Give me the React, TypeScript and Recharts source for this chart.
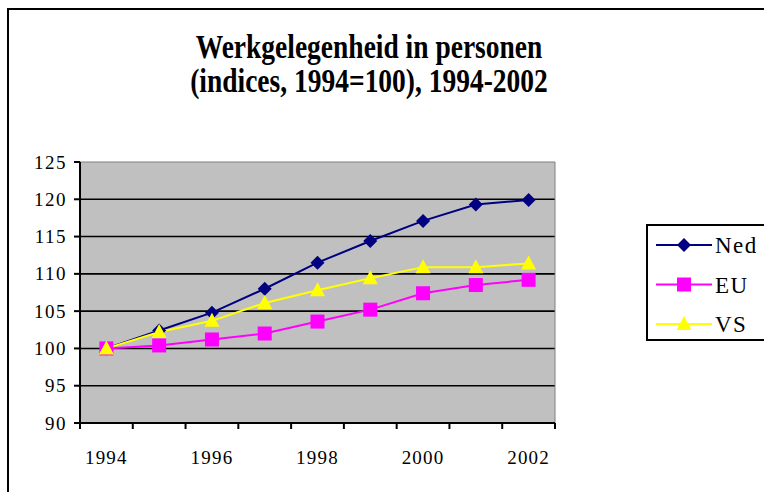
import React from 'react';
import { LineChart, Line, XAxis, YAxis, CartesianGrid, ReferenceArea, Legend } from 'recharts';

const years = ['1994', '1995', '1996', '1997', '1998', '1999', '2000', '2001', '2002'];
const seriesNames = ['Ned', 'EU', 'VS'];
const ned = [100, 102.4, 104.8, 108.0, 111.5, 114.4, 117.1, 119.3, 119.9];
const eu = [100, 100.4, 101.2, 102.0, 103.6, 105.2, 107.4, 108.5, 109.2];
const vs = [100, 102.2, 103.7, 106.1, 107.8, 109.4, 110.9, 110.9, 111.4];
const yTicks = [90, 95, 100, 105, 110, 115, 120, 125];
const gridValues = [95, 100, 105, 110, 115, 120];
const titleLines = ['Werkgelegenheid in personen', '(indices, 1994=100), 1994-2002'];

const data = years.map((y, i) => ({ x: i, year: y, Ned: ned[i], EU: eu[i], VS: vs[i] }));
const xTicks: number[] = [];
for (let i = 0; i <= years.length * 2; i++) xTicks.push(-0.5 + i * 0.5);

const FONT = 'Liberation Serif';

const NAVY = '#000080';
const MAGENTA = '#FF00FF';
const YELLOW = '#FFFF00';
const colorFor: Record<string, string> = { Ned: NAVY, EU: MAGENTA, VS: YELLOW };

const Diamond = (p: any) => {
  const { cx, cy } = p;
  if (cx == null || cy == null) return null;
  return <polygon points={`${cx},${cy - 7} ${cx + 7},${cy} ${cx},${cy + 7} ${cx - 7},${cy}`} fill={NAVY} />;
};
const Square = (p: any) => {
  const { cx, cy } = p;
  if (cx == null || cy == null) return null;
  return <rect x={cx - 7} y={cy - 7} width={14} height={14} fill={MAGENTA} />;
};
const Triangle = (p: any) => {
  const { cx, cy } = p;
  if (cx == null || cy == null) return null;
  return <polygon points={`${cx},${cy - 8} ${cx + 7.5},${cy + 6} ${cx - 7.5},${cy + 6}`} fill={YELLOW} />;
};

const markerFor: Record<string, any> = { Ned: Diamond, EU: Square, VS: Triangle };

const textStyle: React.CSSProperties = { fontFamily: FONT };

const XTick = (props: any) => {
  const { x, y, payload } = props;
  const v = payload.value as number;
  if (Math.abs(v - Math.round(v)) > 0.01) {
    return <line x1={x} x2={x} y1={y} y2={y + 6} stroke="#000" strokeWidth={2} />;
  }
  const i = Math.round(v);
  if (i % 2 !== 0) return <g />;
  return (
    <text x={x} y={y + 41} textAnchor="middle" style={{ ...textStyle, fontSize: 19, letterSpacing: 1.2 }} fill="#000">
      {years[i]}
    </text>
  );
};

const YTick = (props: any) => {
  const { x, y, payload } = props;
  return (
    <text x={x + 1} y={y + 6.5} textAnchor="end" style={{ ...textStyle, fontSize: 19, letterSpacing: 1.5 }} fill="#000">
      {payload.value}
    </text>
  );
};

const LegendBox = () => {
  return (
    <div style={{ width: 130, height: 117, border: '2px solid #000', background: '#fff', position: 'relative', boxSizing: 'border-box' }}>
      <svg width={128} height={113} style={{ position: 'absolute', left: 0, top: 0 }}>
        {seriesNames.map((name: string, idx: number) => {
          const cy = 19 + idx * 39.5;
          const M = markerFor[name];
          return (
            <g key={name}>
              <line x1={8} x2={64} y1={cy} y2={cy} stroke={colorFor[name]} strokeWidth={2} />
              <M cx={36} cy={cy} />
              <text x={67} y={cy + 8} style={{ ...textStyle, fontSize: 23, letterSpacing: 1.5 }} fill="#000">
                {name}
              </text>
            </g>
          );
        })}
      </svg>
    </div>
  );
};

export default function App() {
  return (
    <div style={{ position: 'absolute', left: 0, top: 0, width: 764, height: 492, overflow: 'hidden', background: '#fff' }}>
      <div style={{ position: 'absolute', left: 7, top: 8, width: 900, height: 700, borderLeft: '2px solid #000', borderTop: '2px solid #000' }} />
      <svg width={764} height={110} style={{ position: 'absolute', left: 0, top: 0 }}>
        {titleLines.map((t, i) => (
          <text
            key={i}
            x={0}
            y={0}
            transform={`translate(369,${58 + i * 34}) scale(1,1.22)`}
            textAnchor="middle"
            style={{ ...textStyle, fontSize: 27.5, fontWeight: 'bold' }}
            fill="#000"
          >
            {t}
          </text>
        ))}
      </svg>
      <div style={{ position: 'absolute', left: 0, top: 0 }}>
        <LineChart width={764} height={492} data={data} margin={{ top: 162, right: 209, bottom: 39, left: 0 }}>
          <CartesianGrid fill="#C0C0C0" vertical={false} horizontalValues={gridValues} stroke="#000" strokeWidth={1.6} />
          <ReferenceArea x1={-0.5} x2={8.5} y1={90} y2={125} fill="none" stroke="#808080" strokeWidth={1} />
          <XAxis
            dataKey="x"
            type="number"
            domain={[-0.5, 8.5]}
            ticks={xTicks}
            interval={0}
            tickLine={false}
            tickSize={0}
            tickMargin={0}
            height={30}
            axisLine={{ stroke: '#000', strokeWidth: 2 }}
            tick={<XTick />}
          />
          <YAxis
            type="number"
            domain={[90, 125]}
            ticks={yTicks}
            interval={0}
            width={80}
            tickSize={6}
            tickMargin={8}
            axisLine={{ stroke: '#000', strokeWidth: 2 }}
            tickLine={{ stroke: '#000', strokeWidth: 2 }}
            tick={<YTick />}
          />
          <Line dataKey="Ned" stroke={NAVY} strokeWidth={2} dot={<Diamond />} activeDot={false} isAnimationActive={false} />
          <Line dataKey="EU" stroke={MAGENTA} strokeWidth={2} dot={<Square />} activeDot={false} isAnimationActive={false} />
          <Line dataKey="VS" stroke={YELLOW} strokeWidth={2} dot={<Triangle />} activeDot={false} isAnimationActive={false} />
          <Legend
            layout="vertical"
            align="center"
            verticalAlign="middle"
            content={<LegendBox />}
            wrapperStyle={{ position: 'absolute', left: 646, top: 224, width: 130, height: 117 }}
          />
        </LineChart>
      </div>
    </div>
  );
}
